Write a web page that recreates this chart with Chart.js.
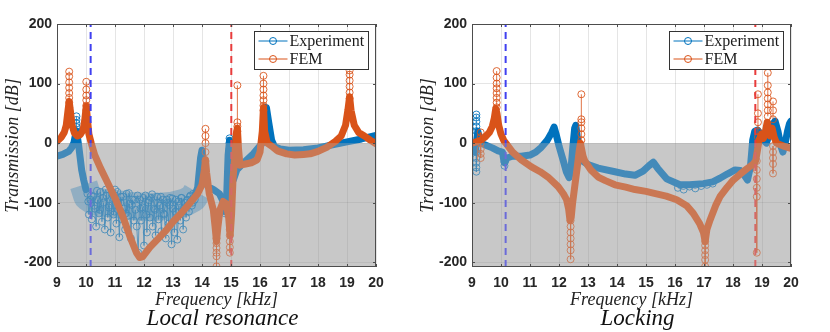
<!DOCTYPE html>
<html>
<head>
<meta charset="utf-8">
<script src="https://cdn.jsdelivr.net/npm/chart.js@4"></script>
<style>
  body { margin: 0; background: #fff; }
  #wrap { display: flex; width: 830px; height: 332px; }
  canvas { display: block; }
</style>
</head>
<body>
<div id="wrap">
  <canvas id="chartLR" width="415" height="332"></canvas>
  <canvas id="chartLK" width="415" height="332"></canvas>
</div>
<script>
    // Eixos e legendas
    const freqTicks = [9, 10, 11, 12, 13, 14, 15, 16, 17, 18, 19, 20];
    const dbTicks = [-200, -100, 0, 100, 200];
    const seriesNames = ["Experiment", "FEM"];

    // ---- Local resonance ----
    const lrFemFreq = [9.00, 9.15, 9.25, 9.32, 9.38, 9.42, 9.46, 9.52, 9.60, 9.70, 9.80, 9.90, 9.96, 10.01, 10.05, 10.10, 10.18, 10.30, 10.50, 10.70, 11.00, 11.27, 11.50, 11.74, 11.85, 11.95, 12.20, 12.50, 12.77, 13.00, 13.30, 13.58, 13.85, 14.00, 14.08, 14.12, 14.16, 14.25, 14.39, 14.45, 14.50, 14.55, 14.62, 14.73, 14.84, 14.92, 14.97, 15.02, 15.07, 15.13, 15.18, 15.22, 15.26, 15.31, 15.50, 15.70, 15.90, 16.00, 16.08, 16.12, 16.16, 16.25, 16.40, 16.60, 16.92, 17.20, 17.50, 17.73, 18.00, 18.30, 18.60, 18.80, 18.95, 19.03, 19.09, 19.14, 19.25, 19.40, 19.60, 19.80, 20.00];
    const lrFemDb = [3, 10, 18, 30, 55, 70, 55, 30, 17, 12, 14, 22, 40, 62, 40, 15, 0, -20, -42, -62, -92, -123, -155, -184, -192, -191, -175, -160, -146, -132, -117, -101, -85, -70, -45, -28, -50, -85, -112, -140, -165, -140, -112, -98, -102, -125, -155, -120, -60, -23, 15, 25, -10, -37, -35, -33, -28, -15, 20, 60, 20, 0, -5, -13, -18, -20, -19, -18, -14, -7, 3, 12, 30, 55, 78, 55, 30, 18, 12, 5, -1];
    const lrFemPicoFreq = [9.42, 9.42, 9.42, 9.42, 9.42, 9.42, 9.42, 9.42, null, 10.01, 10.01, 10.01, 10.01, 10.01, 10.01, null, 14.12, 14.12, 14.12, 14.12, 14.12, null, 14.50, 14.50, 14.50, 14.50, 14.50, 14.50, null, 14.96, 14.96, 14.96, 14.96, 14.96, null, 15.22, 15.22, 15.22, 15.22, null, 16.12, 16.12, 16.12, 16.12, 16.12, 16.12, 16.12, null, 19.09, 19.09, 19.09, 19.09, 19.09, 19.09];
    const lrFemPicoDb = [60, 68, 76, 84, 93, 102, 112, 120, null, 55, 63, 72, 80, 90, 103, null, -30, -15, 0, 12, 24, null, -160, -168, -176, -184, -190, -207, null, -145, -155, -165, -175, -184, null, 20, 28, 35, 97, null, 55, 63, 72, 80, 90, 100, 113, null, 75, 85, 95, 105, 115, 122];

    const lrExpFreq = [9.00, 9.20, 9.40, 9.50, 9.58, 9.63, 9.67, 9.71, 9.75, 9.80, 9.85, 9.92, 10.00, null, 13.75, 13.85, 13.90, 13.95, 14.00, 14.05, 14.12, 14.20, 14.40, 14.60, 14.75, 14.80, 14.85, 14.90, 14.95, 15.00, 15.08, 15.20, 15.42, 15.77, 16.06, 16.15, 16.22, 16.30, 16.40, 16.50, 16.70, 17.00, 17.50, 18.00, 18.50, 19.00, 19.50, 20.00];
    const lrExpDb = [-22, -19, -14, -8, 0, 12, 20, 8, -5, -25, -45, -62, -78, null, -88, -75, -50, -25, -12, -30, -60, -73, -78, -85, -100, -115, -90, -20, 5, -30, -62, -45, -34, -18, -1, 30, 60, 35, 5, -6, -10, -12, -11, -8, -3, 2, 7, 13];
    const lrRuidoFreq = [9.92, 10.05, 10.30, 10.60, 11.00, 11.50, 12.00, 12.50, 13.00, 13.40, 13.70, 13.82];
    const lrRuidoDb = [-70, -90, -98, -100, -102, -105, -107, -107, -105, -100, -92, -82];
    const lrExpMarcFreq = [9.67, 9.67, 9.67, 9.67, 9.67, null,
      10.05, 10.10, 10.15, 10.20, 10.25, 10.30, 10.35, 10.40, 10.45, 10.50, 10.55, 10.60, 10.65, 10.70, 10.75, 10.80, 10.85, 10.90, 10.95, 11.00, 11.05, 11.10, 11.15, 11.20, 11.25, 11.30, 11.35, 11.40, 11.45, 11.50, 11.55, 11.60, 11.65, 11.70, 11.75, 11.80, 11.85, 11.90, 11.95, 12.00, 12.05, 12.10, 12.15, 12.20, 12.25, 12.30, 12.35, 12.40, 12.45, 12.50, 12.55, 12.60, 12.65, 12.70, 12.75, 12.80, 12.85, 12.90, 12.95, 13.00, 13.05, 13.10, 13.15, 13.20, 13.25, 13.30, 13.35, 13.40, 13.45, 13.50, 13.55, 13.60, 13.65, 13.70, 13.75, null,
      10.08, 10.18, 10.28, 10.38, 10.48, 10.58, 10.68, 10.78, 10.88, 10.98, 11.08, 11.18, 11.28, 11.38, 11.48, 11.58, 11.68, 11.78, 11.88, 11.98, 12.08, 12.18, 12.28, 12.38, 12.48, 12.58, 12.68, 12.78, 12.88, 12.98, 13.08, 13.18, 13.28, 13.38, 13.48, 13.58, 13.68, null,
      14.80, 14.80, 14.80, null, 14.95, 14.95, 14.95];
    const lrExpMarcDb = [20, 27, 33, 39, 45, null,
      -85, -120, -95, -128, -90, -110, -140, -95, -118, -82, -132, -100, -145, -88, -125, -105, -150, -92, -120, -78, -135, -100, -158, -90, -128, -110, -145, -85, -122, -102, -160, -95, -130, -112, -140, -184, -95, -130, -108, -172, -88, -150, -100, -125, -92, -140, -110, -155, -90, -128, -105, -148, -95, -120, -160, -100, -135, -92, -170, -110, -150, -95, -162, -105, -130, -92, -145, -100, -125, -95, -115, -88, -105, -85, -95, null,
      -98, -88, -105, -80, -112, -92, -78, -108, -85, -115, -82, -100, -90, -118, -84, -104, -95, -88, -110, -92, -120, -96, -86, -112, -100, -90, -118, -95, -104, -93, -115, -98, -92, -108, -96, -90, -100, null,
      -100, -108, -118, null, -10, 0, 8];
    const lrLinhas = [10.16, 15.01];

    // ---- Locking ----
    const lkFemFreq = [9.00, 9.20, 9.30, 9.45, 9.60, 9.70, 9.77, 9.82, 9.86, 9.92, 10.00, 10.10, 10.18, 10.40, 10.70, 11.05, 11.35, 11.62, 11.97, 12.15, 12.26, 12.33, 12.38, 12.42, 12.47, 12.55, 12.63, 12.70, 12.74, 12.78, 12.83, 12.89, 13.10, 13.35, 13.60, 13.93, 14.30, 14.62, 15.00, 15.25, 15.70, 16.06, 16.40, 16.63, 16.85, 16.98, 17.04, 17.10, 17.21, 17.40, 17.55, 17.80, 18.01, 18.25, 18.48, 18.70, 18.78, 18.85, 18.90, 18.98, 19.05, 19.12, 19.18, 19.22, 19.28, 19.35, 19.42, 19.50, 19.65, 19.80, 20.00];
    const lkFemDb = [0, 3, 5, 10, 18, 28, 42, 58, 50, 30, 15, 4, -1, -15, -28, -40, -48, -57, -73, -85, -95, -110, -130, -125, -100, -70, -40, -12, 0, -10, -22, -30, -45, -57, -63, -70, -74, -78, -81, -84, -89, -95, -105, -118, -135, -150, -165, -145, -129, -105, -90, -74, -62, -52, -43, -35, -30, -10, 5, 15, 8, 20, 35, 25, 12, 25, 10, 0, -3, -6, -9];
    const lkFemPicoFreq = [9.30, 9.30, 9.30, 9.30, 9.30, 9.30, null, 9.85, 9.85, 9.85, 9.85, 9.85, 9.85, 9.85, 9.85, null, 12.40, 12.40, 12.40, 12.40, 12.40, 12.40, 12.40, null, 12.77, 12.77, 12.77, 12.77, 12.77, 12.77, null, 17.04, 17.04, 17.04, 17.04, 17.04, 17.04, null, 18.82, 18.82, 18.82, 18.82, 18.82, 18.82, null, 18.86, 18.86, 18.86, 18.86, 18.86, null, 19.20, 19.20, 19.20, 19.20, 19.20, 19.20, 19.20, null, 19.38, 19.38, 19.38, null, 19.38, 19.38, 19.38, 19.38, 19.38];
    const lkFemPicoDb = [18, 10, 0, -10, -18, -25, null, 60, 68, 76, 84, 92, 100, 110, 121, null, -130, -140, -150, -160, -170, -180, -195, null, 5, 15, 25, 35, 40, 82, null, -165, -172, -180, -188, -196, -207, null, -30, -45, -60, -75, -90, -184, null, 10, 20, 35, 50, 82, null, 45, 55, 65, 75, 85, 97, 118, null, 40, 55, 70, null, -5, -15, -25, -35, -51];

    const lkExpFreq = [9.00, 9.08, 9.12, 9.16, 9.20, 9.25, 9.30, 9.50, 9.70, 9.90, 10.05, 10.10, 10.13, 10.20, 10.40, 10.70, 11.00, 11.20, 11.39, 11.60, 11.75, 11.83, 11.90, 12.00, 12.15, 12.25, 12.35, 12.42, 12.48, 12.54, 12.58, 12.63, 12.70, 12.77, 13.00, 13.35, 13.93, 14.30, 14.62, 14.90, 15.10, 15.25, 15.40, 15.71, 16.17, 16.50, 16.98, 17.30, 17.55, 17.80, 18.07, 18.25, 18.36, 18.50, 18.60, 18.68, 18.75, 18.85, 18.95, 19.05, 19.15, 19.25, 19.35, 19.45, 19.55, 19.65, 19.72, 19.80, 19.88, 19.95, 20.00];
    const lkExpDb = [0, -5, -15, 5, 20, 10, 0, -4, -8, -13, -15, -30, -33, -25, -22, -22, -20, -15, -7, 5, 18, 27, 15, -5, -30, -48, -58, -40, -5, 25, 30, 10, -20, -29, -36, -42, -48, -52, -54, -47, -38, -32, -42, -60, -70, -70, -68, -65, -59, -52, -45, -46, -52, -62, -40, 5, 20, 22, 15, 5, 0, 15, 30, 37, 20, -5, -15, 0, 20, 33, 37];
    const lkExpMarcFreq = [9.15, 9.15, 9.15, 9.15, 9.15, null, 9.15, 9.15, 9.15, 9.15, 9.15, null, 10.12, 10.12, 10.12, null, 16.10, 16.30, 16.50, 16.70, 16.90, 17.10, 17.30];
    const lkExpMarcDb = [20, 28, 36, 43, 48, null, -15, -25, -33, -41, -48, null, -25, -32, -38, null, -75, -78, -73, -76, -72, -70, -68];
    const lkLinhas = [10.16, 18.77];

    const corExp = "#0072BD";
    const corFem = "#D95319";

    // Função auxiliar para juntar frequências e valores em pontos
    function pontos(xs, ys) {
      return xs.map((x, i) => ({ x: x === null ? xs[i - 1] : x, y: ys[i] }));
    }

    // Plugin com a faixa cinza, moldura, legenda e subtítulo no estilo do MATLAB
    const decoracao = {
      id: "decoracao",
      beforeDraw(chart) {
        const { ctx, chartArea: a, scales: { y } } = chart;
        const y0 = y.getPixelForValue(0);
        ctx.save();
        ctx.fillStyle = "#d6d6d6";
        ctx.fillRect(a.left, y0, a.right - a.left, a.bottom - y0);
        ctx.restore();
      },
      afterDatasetsDraw(chart) {
        const { ctx, chartArea: a, scales: { y } } = chart;
        const y0 = y.getPixelForValue(0);
        ctx.save();
        ctx.fillStyle = "rgba(180,180,180,0.38)";
        ctx.fillRect(a.left, y0, a.right - a.left, a.bottom - y0);
        ctx.restore();
      },
      afterDraw(chart) {
        const { ctx, chartArea: a, scales: { x, y } } = chart;
        ctx.save();
        ctx.strokeStyle = "#4d4d4d";
        ctx.lineWidth = 1;
        ctx.strokeRect(a.left + 0.5, a.top + 0.5, a.right - a.left - 1, a.bottom - a.top - 1);
        // marcas dos ticks para dentro
        ctx.beginPath();
        freqTicks.forEach(function(v) {
          const px = Math.round(x.getPixelForValue(v)) + 0.5;
          ctx.moveTo(px, a.top); ctx.lineTo(px, a.top + 3);
          ctx.moveTo(px, a.bottom); ctx.lineTo(px, a.bottom - 3);
        });
        dbTicks.forEach(function(v) {
          const py = Math.round(y.getPixelForValue(v)) + 0.5;
          ctx.moveTo(a.left, py); ctx.lineTo(a.left + 3, py);
          ctx.moveTo(a.right, py); ctx.lineTo(a.right - 3, py);
        });
        ctx.stroke();

        // legenda
        const w = 114, h = 38;
        const lx = Math.round(a.right - 8 - w) + 0.5, ly = Math.round(a.top + 7) + 0.5;
        ctx.fillStyle = "#fff";
        ctx.fillRect(lx, ly, w, h);
        ctx.strokeStyle = "#333";
        ctx.strokeRect(lx, ly, w, h);
        const cores = [corExp, corFem];
        seriesNames.forEach(function(nome, i) {
          const cy = ly + 9.5 + i * 18;
          ctx.strokeStyle = cores[i];
          ctx.lineWidth = 1;
          ctx.beginPath();
          ctx.moveTo(lx + 4, cy); ctx.lineTo(lx + 33, cy);
          ctx.stroke();
          ctx.beginPath();
          ctx.arc(lx + 18.5, cy, 3.5, 0, Math.PI * 2);
          ctx.stroke();
          ctx.fillStyle = "#1a1a1a";
          ctx.font = "16px 'Liberation Serif'";
          ctx.textBaseline = "middle";
          ctx.textAlign = "left";
          ctx.fillText(nome, lx + 35, cy + 1);
        });

        // subtítulo do painel
        ctx.fillStyle = "#111";
        ctx.font = "italic 23px 'Liberation Serif'";
        ctx.textAlign = "center";
        ctx.textBaseline = "middle";
        ctx.fillText(chart.options.plugins.decoracao.subtitulo, (a.left + a.right) / 2 + 6, 319);
        ctx.restore();
      }
    };

    // Função para criar cada painel
    function criarGrafico(id, titulo, d) {
      const datasets = [];
      d.linhas.forEach(function(f, i) {
        datasets.push({
          data: [{ x: f, y: -208 }, { x: f, y: 200 }],
          borderColor: i === 0 ? "#4040f0" : "#e83c3c",
          borderWidth: 2,
          borderDash: [7, 5],
          pointRadius: 0
        });
      });
      const marcas = function(xs, ys, cor) {
        return {
          data: pontos(xs, ys),
          borderColor: cor + "cc",
          borderWidth: 1,
          pointRadius: 3.5,
          pointBorderWidth: 1,
          pointBackgroundColor: "rgba(0,0,0,0)",
          pointBorderColor: cor + "dd",
          spanGaps: false
        };
      };
      const faixa = function(xs, ys, cor, larg, ponta) {
        return {
          data: pontos(xs, ys),
          borderColor: cor,
          borderWidth: larg,
          borderCapStyle: ponta,
          borderJoinStyle: "round",
          pointRadius: 0,
          spanGaps: false
        };
      };
      datasets.push(marcas(d.femPicoFreq, d.femPicoDb, corFem));
      datasets.push(faixa(d.femFreq, d.femDb, corFem, 7, "round"));
      datasets.push(marcas(d.expMarcFreq, d.expMarcDb, corExp));
      if (d.ruidoFreq) {
        datasets.push(faixa(d.ruidoFreq, d.ruidoDb, "rgba(0,114,189,0.42)", 28, "butt"));
      }
      datasets.push(faixa(d.expFreq, d.expDb, corExp, 7, "round"));

      new Chart(document.getElementById(id), {
        type: "line",
        data: { datasets: datasets },
        plugins: [decoracao],
        options: {
          responsive: false,
          animation: false,
          devicePixelRatio: 1,
          layout: { padding: { top: 24, right: 39, left: 0, bottom: 0 } },
          plugins: {
            legend: { display: false },
            tooltip: { enabled: false },
            decoracao: { subtitulo: titulo }
          },
          scales: {
            x: {
              type: "linear",
              min: 9,
              max: 20,
              afterBuildTicks: function(s) { s.ticks = freqTicks.map(v => ({ value: v })); },
              afterFit: function(s) { s.height = 65; },
              grid: { color: "rgba(0,0,0,0.1)", drawTicks: false },
              border: { display: false },
              ticks: { color: "#262626", padding: 8, font: { family: "'Liberation Sans'", weight: "bold", size: 14 } },
              title: {
                display: true,
                text: "Frequency [kHz]",
                color: "#222",
                font: { family: "'Liberation Serif'", style: "italic", size: 18 },
                padding: { top: 0, bottom: 21 }
              }
            },
            y: {
              min: -208,
              max: 200,
              afterBuildTicks: function(s) { s.ticks = dbTicks.map(v => ({ value: v })); },
              afterFit: function(s) { s.width = 57; },
              grid: { color: "rgba(0,0,0,0.1)", drawTicks: false },
              border: { display: false },
              ticks: { color: "#262626", padding: 5, font: { family: "'Liberation Sans'", weight: "bold", size: 14 } },
              title: {
                display: true,
                text: "Transmission [dB]",
                color: "#222",
                font: { family: "'Liberation Serif'", style: "italic", size: 18 },
                padding: { top: 2, bottom: 0 }
              }
            }
          }
        }
      });
    }

    criarGrafico("chartLR", "Local resonance", {
      femFreq: lrFemFreq, femDb: lrFemDb,
      femPicoFreq: lrFemPicoFreq, femPicoDb: lrFemPicoDb,
      expFreq: lrExpFreq, expDb: lrExpDb,
      expMarcFreq: lrExpMarcFreq, expMarcDb: lrExpMarcDb,
      ruidoFreq: lrRuidoFreq, ruidoDb: lrRuidoDb,
      linhas: lrLinhas
    });

    criarGrafico("chartLK", "Locking", {
      femFreq: lkFemFreq, femDb: lkFemDb,
      femPicoFreq: lkFemPicoFreq, femPicoDb: lkFemPicoDb,
      expFreq: lkExpFreq, expDb: lkExpDb,
      expMarcFreq: lkExpMarcFreq, expMarcDb: lkExpMarcDb,
      linhas: lkLinhas
    });
</script>
</body>
</html>
